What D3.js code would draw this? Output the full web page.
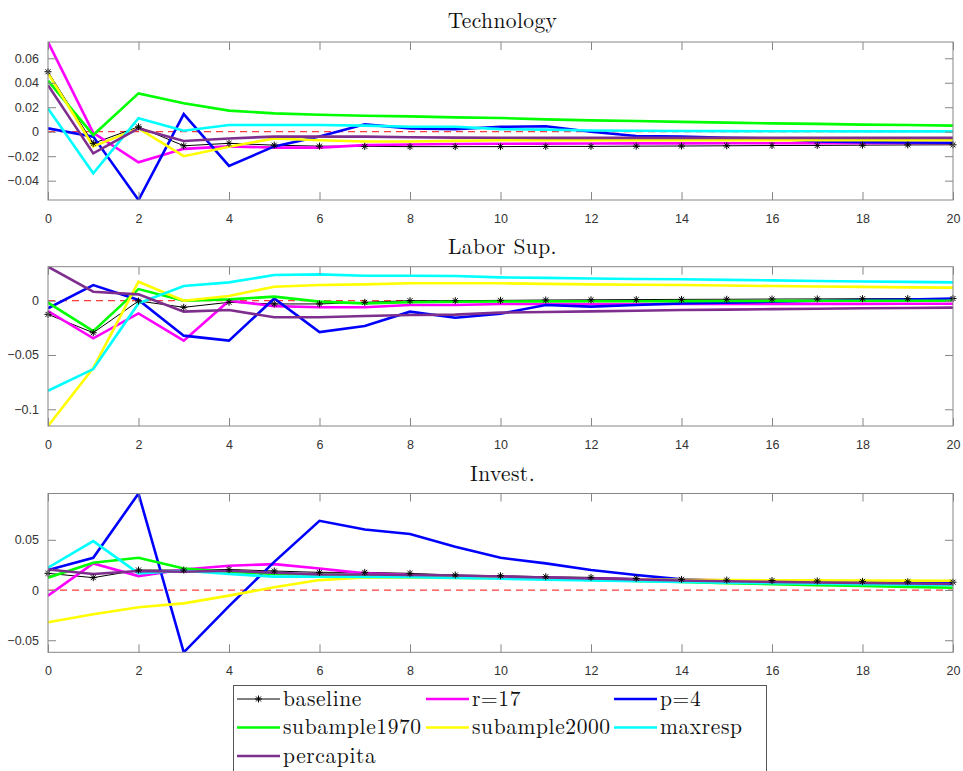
<!DOCTYPE html>
<html>
<head>
<meta charset="utf-8">
<script src="https://cdn.jsdelivr.net/npm/d3@7"></script>
<style>
  html, body { margin: 0; padding: 0; background: #fff; }
  svg { display: block; }
</style>
</head>
<body>
<svg id="chart" width="963" height="771"></svg>
<script>
// Horizons 0..20
const horizons = d3.range(0, 21);
const xTicks = d3.range(0, 21, 2);

const seriesNames = ["baseline", "r=17", "p=4", "subample1970", "subample2000", "maxresp", "percapita"];
const seriesColors = ["#000000", "#ff00ff", "#0000ff", "#00ff00", "#ffff00", "#00ffff", "#7e2f8e"];

// Technology shock responses
const techBaseline = [0.049, -0.0095, 0.004, -0.0115, -0.0095, -0.011, -0.0118, -0.012, -0.0122, -0.0122, -0.0122, -0.012, -0.012, -0.0118, -0.0117, -0.0115, -0.0113, -0.0112, -0.011, -0.0108, -0.0107];
const techR17 = [0.0733, -0.001, -0.025, -0.014, -0.012, -0.013, -0.013, -0.011, -0.0105, -0.010, -0.0098, -0.0097, -0.0096, -0.0095, -0.0095, -0.0094, -0.0094, -0.0093, -0.0093, -0.0092, -0.0092];
const techP4 = [0.0027, -0.004, -0.0558, 0.0144, -0.028, -0.012, -0.004, 0.006, 0.0027, 0.002, 0.004, 0.0045, 0.0, -0.0035, -0.004, -0.005, -0.0055, -0.008, -0.0085, -0.0088, -0.009];
const techSub1970 = [0.0417, -0.0027, 0.0313, 0.0232, 0.0172, 0.015, 0.0139, 0.013, 0.0125, 0.0117, 0.0112, 0.0101, 0.0093, 0.0087, 0.008, 0.0074, 0.0068, 0.0064, 0.0058, 0.0055, 0.005];
const techSub2000 = [0.0477, -0.012, 0.0027, -0.020, -0.0123, -0.0055, -0.007, -0.008, -0.008, -0.0075, -0.007, -0.007, -0.007, -0.007, -0.007, -0.007, -0.007, -0.007, -0.007, -0.007, -0.007];
const techMaxresp = [0.019, -0.034, 0.011, 0.0008, 0.0055, 0.0055, 0.0055, 0.005, 0.004, 0.004, 0.0021, 0.0017, 0.001, 0.0008, 0.0006, 0.0005, 0.0004, 0.0004, 0.0003, 0.0003, 0.0003];
const techPercapita = [0.038, -0.0177, 0.0027, -0.0076, -0.0055, -0.004, -0.004, -0.004, -0.0045, -0.0048, -0.0049, -0.005, -0.005, -0.005, -0.005, -0.005, -0.005, -0.005, -0.005, -0.005, -0.005];

// Labor supply shock responses
const laborBaseline = [-0.0126, -0.0295, -0.0003, -0.0061, -0.0015, -0.003, -0.003, -0.0015, 0.0, 0.0, 0.0003, 0.0006, 0.0008, 0.001, 0.0012, 0.0013, 0.0015, 0.0016, 0.0018, 0.0019, 0.002];
const laborR17 = [-0.0095, -0.0347, -0.0117, -0.0368, 0.0, -0.005, -0.006, -0.006, -0.004, -0.004, -0.003, -0.003, -0.003, -0.003, -0.003, -0.003, -0.003, -0.0029, -0.0029, -0.0028, -0.0028];
const laborP4 = [-0.007, 0.0144, 0.0006, -0.0322, -0.0368, 0.002, -0.0289, -0.0233, -0.0101, -0.0157, -0.012, -0.004, -0.0055, -0.004, -0.0025, -0.0019, -0.001, 0.0, 0.0005, 0.001, 0.002];
const laborSub1970 = [-0.0018, -0.028, 0.0107, 0.0, 0.0012, 0.0037, -0.0009, -0.0025, -0.0015, -0.001, -0.0008, -0.0006, -0.0005, -0.0005, -0.0004, -0.0003, -0.0002, -0.0001, 0.0, 0.0, 0.0];
const laborSub2000 = [-0.1154, -0.062, 0.0175, 0.0, 0.0043, 0.0129, 0.0144, 0.015, 0.016, 0.016, 0.016, 0.0155, 0.015, 0.0147, 0.0144, 0.014, 0.0135, 0.013, 0.0127, 0.0123, 0.012];
const laborMaxresp = [-0.0829, -0.063, -0.0025, 0.0135, 0.0169, 0.0236, 0.0242, 0.023, 0.023, 0.0227, 0.0215, 0.021, 0.0205, 0.02, 0.0197, 0.0192, 0.0187, 0.0182, 0.0177, 0.0173, 0.0169];
const laborPercapita = [0.0313, 0.0083, 0.0058, -0.0101, -0.0086, -0.0153, -0.0153, -0.0141, -0.0132, -0.0128, -0.011, -0.0104, -0.0098, -0.0092, -0.0086, -0.0082, -0.0078, -0.0074, -0.007, -0.0067, -0.0064];

// Investment shock responses
const investBaseline = [0.0166, 0.0123, 0.0199, 0.0199, 0.0205, 0.0189, 0.0176, 0.0176, 0.0166, 0.0149, 0.0142, 0.0132, 0.0126, 0.0116, 0.0106, 0.0099, 0.0094, 0.009, 0.0086, 0.0082, 0.0078];
const investR17 = [-0.0056, 0.0265, 0.0139, 0.0205, 0.0242, 0.0258, 0.0215, 0.0166, 0.015, 0.0138, 0.013, 0.0122, 0.0115, 0.0108, 0.0102, 0.0097, 0.0092, 0.0088, 0.0085, 0.0082, 0.008];
const investP4 = [0.0199, 0.0321, 0.0961, -0.062, -0.016, 0.028, 0.0689, 0.0603, 0.0557, 0.0431, 0.0321, 0.0265, 0.0199, 0.0149, 0.0106, 0.009, 0.0085, 0.0082, 0.008, 0.0078, 0.0076];
const investSub1970 = [0.0123, 0.0272, 0.0321, 0.0215, 0.0182, 0.0159, 0.0155, 0.015, 0.0145, 0.014, 0.0125, 0.0112, 0.01, 0.009, 0.008, 0.0068, 0.0058, 0.0048, 0.004, 0.0031, 0.0023];
const investSub2000 = [-0.0321, -0.0242, -0.0172, -0.0133, -0.0056, 0.0027, 0.0099, 0.0126, 0.0123, 0.012, 0.0116, 0.0112, 0.0108, 0.0105, 0.0102, 0.0099, 0.0097, 0.0096, 0.0095, 0.0094, 0.0093];
const investMaxresp = [0.0222, 0.0487, 0.0166, 0.0192, 0.0159, 0.0133, 0.0133, 0.013, 0.0128, 0.012, 0.0112, 0.0104, 0.0096, 0.0088, 0.008, 0.0074, 0.0068, 0.0063, 0.0058, 0.0054, 0.005];
const investPercapita = [0.0205, 0.0159, 0.0189, 0.0182, 0.0192, 0.0172, 0.0156, 0.0155, 0.015, 0.0145, 0.0135, 0.0125, 0.0115, 0.0105, 0.0095, 0.0088, 0.0081, 0.0075, 0.007, 0.0065, 0.006];

const panelTitles = ["Technology", "Labor Sup.", "Invest."];
const panelSeries = [
  [techBaseline, techR17, techP4, techSub1970, techSub2000, techMaxresp, techPercapita],
  [laborBaseline, laborR17, laborP4, laborSub1970, laborSub2000, laborMaxresp, laborPercapita],
  [investBaseline, investR17, investP4, investSub1970, investSub2000, investMaxresp, investPercapita]
];
const panelYTicks = [
  [-0.04, -0.02, 0, 0.02, 0.04, 0.06],
  [-0.1, -0.05, 0],
  [-0.05, 0, 0.05]
];

const svg = d3.select("#chart");
const left = 48, right = 953;
const panelBoxes = [
  { top: 42, bottom: 200, titleY: 28 },
  { top: 266.7, bottom: 426, titleY: 254 },
  { top: 493.5, bottom: 652.3, titleY: 481 }
];

const x = d3.scaleLinear().domain([0, 20]).range([left, right]);
const axisColor = "#868686";
const tickFont = "'Liberation Sans', Arial, Helvetica, sans-serif";
const serifFont = "'Latin Modern Roman', 'CMU Serif', 'Liberation Serif', 'Times New Roman', serif";

// small eight-armed star used as the baseline marker
function drawStar(sel, cx, cy, r) {
  const mk = sel.append("g").attr("transform", `translate(${cx},${cy})`);
  [0, 45, 90, 135].forEach(a => {
    const rad = a * Math.PI / 180;
    mk.append("line")
      .attr("x1", -r * Math.cos(rad)).attr("y1", -r * Math.sin(rad))
      .attr("x2", r * Math.cos(rad)).attr("y2", r * Math.sin(rad))
      .attr("stroke", "#000").attr("stroke-width", 1);
  });
}

panelSeries.forEach((series, p) => {
  const box = panelBoxes[p];
  const allVals = series.flat();
  const y = d3.scaleLinear()
    .domain([d3.min(allVals), d3.max(allVals)])
    .range([box.bottom, box.top]);

  const g = svg.append("g");

  const clipId = "clip" + p;
  svg.append("clipPath").attr("id", clipId)
    .append("rect")
    .attr("x", left).attr("y", box.top)
    .attr("width", right - left).attr("height", box.bottom - box.top);

  // zero reference line
  g.append("line")
    .attr("x1", x(0)).attr("x2", x(20))
    .attr("y1", y(0)).attr("y2", y(0))
    .attr("stroke", "#ff3b3b").attr("stroke-width", 1.3)
    .attr("stroke-dasharray", "7,5");

  const line = d3.line().x((d, i) => x(horizons[i])).y(d => y(d));
  const lines = g.append("g").attr("clip-path", `url(#${clipId})`);

  series.forEach((vals, s) => {
    lines.append("path")
      .datum(vals)
      .attr("d", line)
      .attr("fill", "none")
      .attr("stroke", seriesColors[s])
      .attr("stroke-width", s === 0 ? 1 : 2.6)
      .attr("stroke-linejoin", "miter");
    if (s === 0) {
      vals.forEach((v, i) => drawStar(g, x(horizons[i]), y(v), 3.5));
    }
  });

  // axes box with inward ticks on all four sides
  const xBottom = d3.axisBottom(x).tickValues(xTicks).tickSizeInner(-8).tickSizeOuter(0).tickPadding(14).tickFormat(d3.format("d"));
  const xTop = d3.axisTop(x).tickValues(xTicks).tickSizeInner(-8).tickSizeOuter(0).tickFormat("");
  const fmt = v => v === 0 ? "0" : d3.format("")(+v.toFixed(3));
  const yLeft = d3.axisLeft(y).tickValues(panelYTicks[p]).tickSizeInner(-8).tickSizeOuter(0).tickPadding(14).tickFormat(fmt);
  const yRight = d3.axisRight(y).tickValues(panelYTicks[p]).tickSizeInner(-8).tickSizeOuter(0).tickFormat("");

  const axes = [
    g.append("g").attr("transform", `translate(0,${box.bottom})`).call(xBottom),
    g.append("g").attr("transform", `translate(0,${box.top})`).call(xTop),
    g.append("g").attr("transform", `translate(${left},0)`).call(yLeft),
    g.append("g").attr("transform", `translate(${right},0)`).call(yRight)
  ];
  axes.forEach(a => {
    a.select(".domain").remove();
    a.selectAll(".tick line").attr("stroke", axisColor).attr("stroke-width", 1);
    a.selectAll(".tick text").attr("fill", "#333").attr("font-size", 12.5).attr("font-family", tickFont);
  });
  axes[2].selectAll(".tick text").attr("dx", 5);

  g.append("rect")
    .attr("x", left).attr("y", box.top)
    .attr("width", right - left).attr("height", box.bottom - box.top)
    .attr("fill", "none").attr("stroke", axisColor).attr("stroke-width", 1);

  g.append("text")
    .attr("x", (left + right) / 2 + 2).attr("y", box.titleY)
    .attr("text-anchor", "middle")
    .attr("font-family", serifFont)
    .attr("font-size", 21.5)
    .attr("letter-spacing", 0.4)
    .attr("fill", "#111")
    .text(panelTitles[p]);
});

// legend
const legend = svg.append("g");
legend.append("rect")
  .attr("x", 233.5).attr("y", 685.5).attr("width", 533).attr("height", 95)
  .attr("fill", "#fff").attr("stroke", "#555").attr("stroke-width", 1);
const colX = [237, 426, 614];
const rowY = [699, 727.5, 756];
seriesNames.forEach((name, i) => {
  const cx = colX[i % 3], cy = rowY[Math.floor(i / 3)];
  legend.append("line")
    .attr("x1", cx).attr("x2", cx + 43).attr("y1", cy).attr("y2", cy)
    .attr("stroke", seriesColors[i]).attr("stroke-width", i === 0 ? 1 : 2.6);
  if (i === 0) drawStar(legend, cx + 21.5, cy, 3.5);
  legend.append("text")
    .attr("x", cx + 46).attr("y", cy + 6.5)
    .attr("font-family", serifFont)
    .attr("font-size", 21.5)
    .attr("letter-spacing", 0.6)
    .attr("fill", "#111")
    .text(name);
});
</script>
</body>
</html>
